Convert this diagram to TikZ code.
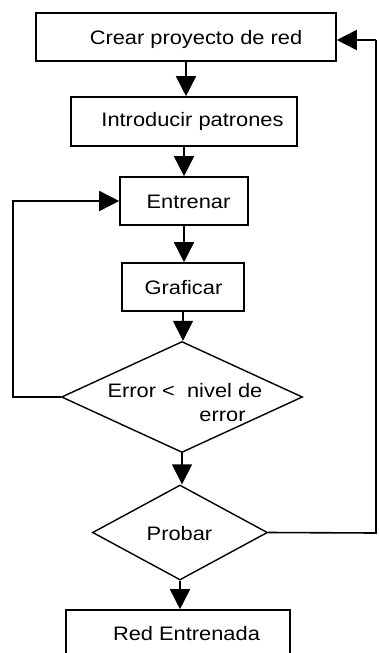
\documentclass[tikz,border=0pt]{standalone}
\usepackage{fontspec}
\setmainfont{Liberation Sans}[FakeStretch=1.12]
\usetikzlibrary{arrows.meta,shapes.geometric}
\begin{document}
\begin{tikzpicture}[x=1pt,y=-1pt,
  box/.style={draw,line width=1.6pt,inner sep=0pt,minimum width=#1},
  dia/.style={draw,diamond,line width=1.4pt,inner sep=0pt},
  lbl/.style={inner sep=0pt,font=\fontsize{19.5}{23}\selectfont},
  flow/.style={line width=1.6pt,-{Triangle[length=20pt,width=20pt]}},
  plain/.style={line width=1.6pt}]
\useasboundingbox (0,0) rectangle (378,653);
% boxes
\node[box=300pt,minimum height=48pt] (b1) at (186,37) {};
\node[box=226pt,minimum height=49pt] (b2) at (184,121.5) {};
\node[box=128pt,minimum height=48pt] (b3) at (184,201) {};
\node[box=122pt,minimum height=48pt] (b4) at (183,287) {};
\node[dia,minimum width=241pt,minimum height=111pt] (d1) at (182,397) {};
\node[dia,minimum width=175pt,minimum height=95pt] (d2) at (180,532.5) {};
\node[box=224pt,minimum height=52pt] (b5) at (178,636) {};
% texts
\node[lbl] (t1) at (196,39) {Crear proyecto de red};
\node[lbl] (t2) at (192.5,121) {Introducir patrones};
\node[lbl] (t3) at (188.5,202) {Entrenar};
\node[lbl] (t4) at (183.5,288) {Graficar};
\node[lbl] (t5a) at (185,391) {Error <\ \ nivel de};
\node[lbl] (t5b) at (222.5,416) {error};
\node[lbl] (t6) at (179.5,534) {Probar};
\node[lbl] (t7) at (186.5,634) {Red Entrenada};
% connectors
\draw[flow] (b1.south) -- (b1.south |- b2.north);
\draw[flow] (b2.south) -- (b2.south |- b3.north);
\draw[flow] (b3.south) -- (b3.south |- b4.north);
\draw[flow] (b4.south) -- (b4.south |- d1.north);
\draw[flow] (d1.south) -- (d1.south |- d2.north);
\draw[flow] (d2.south) -- (d2.south |- b5.north);
\coordinate (lp) at (13,397);
\draw[flow] (d1.west) -- (lp) |- (b3.west);
\coordinate (rp) at (376,533);
\coordinate (rt) at (376,40);
\draw[plain] (d2.east) -- (rp) -- (rt);
\draw[flow] (rt) -- (rt -| b1.east);
\end{tikzpicture}
\end{document}
